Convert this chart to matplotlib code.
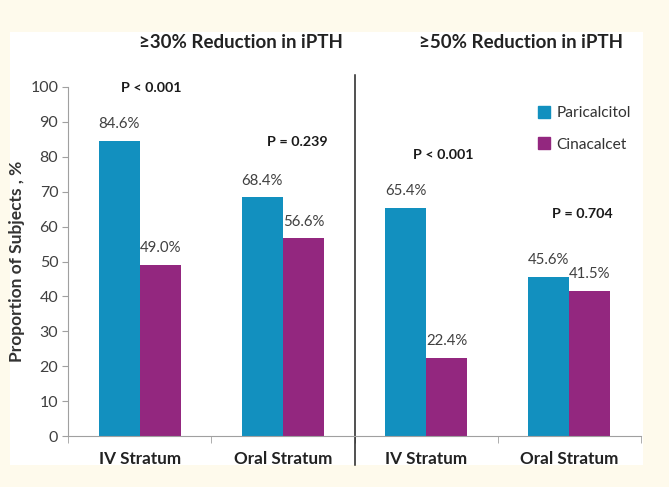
import numpy as np
import matplotlib.pyplot as plt
from matplotlib.patches import Rectangle, Patch

plt.rcParams['font.family'] = ['Lato', 'DejaVu Sans']

categories = ["IV Stratum", "Oral Stratum", "IV Stratum", "Oral Stratum"]
paricalcitol = [84.6, 68.4, 65.4, 45.6]
cinacalcet = [49.0, 56.6, 22.4, 41.5]
p_labels = ["P < 0.001", "P = 0.239", "P < 0.001", "P = 0.704"]
p_y = [99.7, 84.2, 80.5, 63.6]
p_x = [0.08, 1.10, 2.12, 3.09]
titles = ["\u226530% Reduction in iPTH", "\u226550% Reduction in iPTH"]

blue = "#1290BF"
purple = "#93277F"
grey = "#404040"

fig = plt.figure(figsize=(6.69, 4.87), dpi=100)
fig.patch.set_facecolor("#FEFAEC")
fig.patches.append(Rectangle((10 / 669, 1 - 465 / 487), 633 / 669, 433 / 487,
                             transform=fig.transFigure, facecolor="white",
                             edgecolor="none", zorder=-10))

ax = fig.add_axes([68 / 669, 1 - 436 / 487, 573 / 669, 349 / 487])
ax.set_facecolor("none")

x = np.arange(len(categories))
w = 0.285
b1 = ax.bar(x - 0.143, paricalcitol, w, color=blue, label="Paricalcitol")
b2 = ax.bar(x + 0.143, cinacalcet, w, color=purple, label="Cinacalcet")

for bars, vals in ((b1, paricalcitol), (b2, cinacalcet)):
    for r, v in zip(bars, vals):
        ax.annotate(f"{v:.1f}%", (r.get_x() + r.get_width() / 2, v),
                    xytext=(0, 7), textcoords="offset points",
                    ha="center", va="bottom", fontsize=10.8, color=grey)

for px, py, t in zip(p_x, p_y, p_labels):
    ax.text(px, py, t, ha="center", va="center", fontsize=10.3,
            fontweight="bold", color="#1a1a1a")

ax.set_xlim(-0.5, 3.5)
ax.set_ylim(0, 100)
ax.set_yticks(np.arange(0, 101, 10))
ax.set_xticks(x)
ax.set_xticklabels(categories, fontsize=12.3, fontweight="bold", color="#222222")
ax.set_xticks([-0.5, 0.5, 1.5, 2.5, 3.5], minor=True)
ax.tick_params(axis="x", which="major", length=0, pad=11)
ax.tick_params(axis="x", which="minor", length=5, color="#a0a0a0")
ax.tick_params(axis="y", length=4, color="#a0a0a0", labelsize=11.5,
               labelcolor=grey, pad=3)
for s in ("top", "right"):
    ax.spines[s].set_visible(False)
ax.spines["left"].set_color("#a0a0a0")
ax.spines["bottom"].set_color("#a0a0a0")
ax.set_ylabel("Proportion of Subjects , %", fontsize=12.5, fontweight="bold",
              color="#333333", labelpad=4)

ax.plot([1.5, 1.5], [-8.3, 103.4], color="#222222", lw=1.1, clip_on=False)

fig.text(241 / 669, 1 - 42 / 487, titles[0], ha="center", va="center",
         fontsize=13.5, fontweight="bold", color="#222222")
fig.text(521 / 669, 1 - 42 / 487, titles[1], ha="center", va="center",
         fontsize=13.5, fontweight="bold", color="#222222")

handles = [Patch(color=blue, label="Paricalcitol"),
           Patch(color=purple, label="Cinacalcet")]
fig.legend(handles=handles, loc="upper left",
           bbox_to_anchor=(530 / 669, 1 - 98 / 487), frameon=False,
           fontsize=11.2, handlelength=0.8, handleheight=0.8,
           handletextpad=0.4, labelspacing=1.1, borderpad=0,
           labelcolor="#333333")

fig.savefig("out.png", dpi=100, facecolor=fig.get_facecolor())
